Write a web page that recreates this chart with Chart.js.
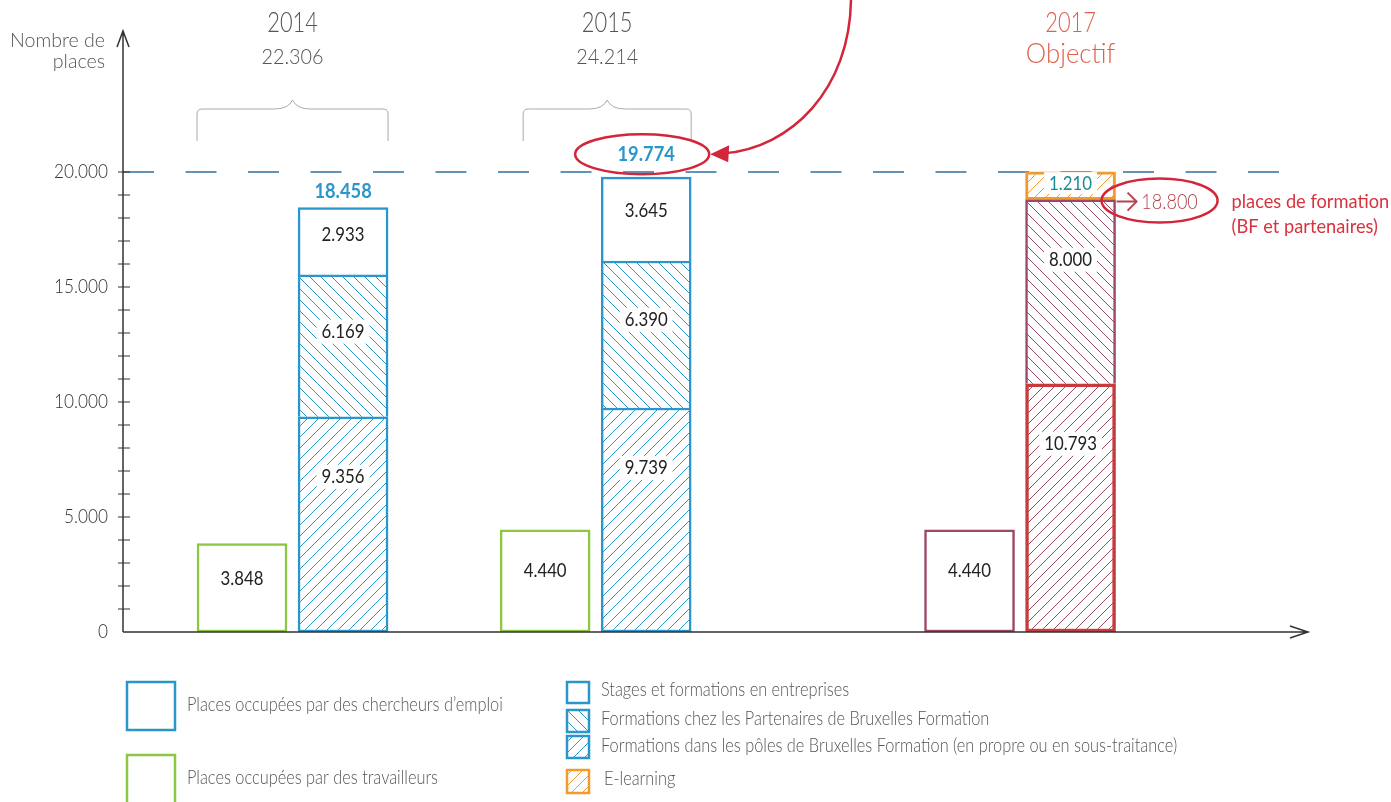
<!DOCTYPE html>
<html lang="fr">
<head>
<meta charset="utf-8">
<title>Places de formation</title>
<script src="https://cdn.jsdelivr.net/npm/chart.js@4.4.1/dist/chart.umd.min.js"></script>
<style>
  html, body { margin: 0; padding: 0; background: #fff; }
  canvas { display: block; }
</style>
</head>
<body>
<canvas id="chart" width="1391" height="802"></canvas>
<script>
// values
const years = ['2014', '2015', '2017'];
const yearTotals = [22306, 24214, null];
const travailleurs = [3848, 4440, 4440];
const polesBF = [9356, 9739, 10793];
const partenairesBF = [6169, 6390, 8000];
const stagesEntreprises = [2933, 3645, null];
const eLearning = [null, null, 1210];
const seuil = 20000;
const objectifFormation = 18800;
const yTicks = [0, 5000, 10000, 15000, 20000];

// layout + styles
const slot = [0, 3, 7.2];            // where each year group sits on the x scale
const braceInset = [0, 23];
const totalLift = [16, 23];
const FONT = "Lato, 'DejaVu Sans Condensed', sans-serif";
const BLUE = '#2b96cb', GREEN = '#8dc641', PLUM = '#9a4769', RED = '#c73a3d', ORANGE = '#f29a2e';
const TXT = '#555', ALERT = '#d3263a';

const fmt = v => String(v).replace(/\B(?=(\d{3})+(?!\d))/g, '.');
const ctx = document.getElementById('chart').getContext('2d');

function hatch(color, back) {
  const s = 11, c = document.createElement('canvas');
  c.width = c.height = s;
  const g = c.getContext('2d');
  g.fillStyle = '#fff'; g.fillRect(0, 0, s, s);
  g.strokeStyle = color; g.lineWidth = 1;
  g.beginPath();
  for (const k of [-s, 0, s]) {
    if (back) { g.moveTo(k, 0); g.lineTo(k + s, s); }
    else { g.moveTo(k, s); g.lineTo(k + s, 0); }
  }
  g.stroke();
  return ctx.createPattern(c, 'repeat');
}
const blueSlash = hatch(BLUE, false), blueBack = hatch(BLUE, true);
const plumSlash = hatch(PLUM, false), plumBack = hatch(PLUM, true);
const orangeSlash = hatch(ORANGE, false);

const pts = (vals, off) => vals.map((v, i) => ({x: slot[i] + off, y: v}));

const datasets = [
  {label: 'Places occupées par des travailleurs', data: pts(travailleurs, 0),
   backgroundColor: '#fff', borderColor: [GREEN, GREEN, PLUM], borderWidth: 2.5, borderSkipped: false},
  {label: 'Formations dans les pôles de Bruxelles Formation (en propre ou en sous-traitance)', data: pts(polesBF, 1),
   backgroundColor: [blueSlash, blueSlash, plumSlash], borderColor: [BLUE, BLUE, RED], borderWidth: [2.5, 2.5, 3.5], borderSkipped: false},
  {label: 'Formations chez les Partenaires de Bruxelles Formation', data: pts(partenairesBF, 1),
   backgroundColor: [blueBack, blueBack, plumBack], borderColor: [BLUE, BLUE, PLUM], borderWidth: 2.5},
  {label: 'Stages et formations en entreprises', data: pts(stagesEntreprises, 1),
   backgroundColor: '#fff', borderColor: BLUE, borderWidth: 2.5},
  {label: 'E-learning', data: pts(eLearning, 1),
   backgroundColor: orangeSlash, borderColor: ORANGE, borderWidth: 3, borderSkipped: false}
];

// text squeezed horizontally to get the narrow look of the original font
function text(c, s, x, y, font, color, align = 'center', sx = 0.9) {
  c.save();
  c.font = font; c.fillStyle = color; c.textAlign = align; c.textBaseline = 'middle';
  c.translate(x, y); c.scale(sx, 1); c.fillText(s, 0, 0);
  c.restore();
}
function ellipse(c, x, y, rx, ry) {
  c.strokeStyle = ALERT; c.lineWidth = 2.5;
  c.beginPath(); c.ellipse(x, y, rx, ry, 0, 0, Math.PI * 2); c.stroke();
}
function box(c, x, y, w, h, fill, stroke) {
  c.fillStyle = fill; c.fillRect(x, y, w, h);
  c.strokeStyle = stroke; c.lineWidth = 2.5; c.strokeRect(x + 1, y + 1, w - 2, h - 2);
}
function brace(c, l, r, top, bottom) {
  const m = (l + r) / 2, yb = top + 9;
  c.strokeStyle = '#aaa'; c.lineWidth = 1;
  c.beginPath();
  c.moveTo(l, bottom); c.lineTo(l, yb + 5); c.quadraticCurveTo(l, yb, l + 5, yb);
  c.lineTo(m - 18, yb); c.quadraticCurveTo(m - 4, yb, m, top);
  c.quadraticCurveTo(m + 4, yb, m + 18, yb);
  c.lineTo(r - 5, yb); c.quadraticCurveTo(r, yb, r, yb + 5); c.lineTo(r, bottom);
  c.stroke();
}

const deco = {
  id: 'deco',
  beforeDatasetsDraw(chart) {
    const {ctx: c, chartArea: a, scales: {y}} = chart;
    const yy = y.getPixelForValue(seuil);
    c.save();
    c.strokeStyle = '#2f72a3'; c.lineWidth = 1.5; c.setLineDash([31, 31.5]);
    c.beginPath(); c.moveTo(a.left, yy); c.lineTo(a.right - 26, yy); c.stroke();
    c.restore();
  },
  afterDatasetsDraw(chart) {
    const {ctx: c, chartArea: a, scales: {y}} = chart;
    c.save();

    // axes with arrows, minor ticks, tick labels
    c.strokeStyle = '#333'; c.lineWidth = 1.5;
    c.beginPath();
    c.moveTo(a.left, a.bottom); c.lineTo(a.left, a.top - 3);
    c.moveTo(a.left - 6, a.top + 13); c.lineTo(a.left, a.top - 3); c.lineTo(a.left + 6, a.top + 13);
    c.moveTo(a.left, a.bottom); c.lineTo(a.right, a.bottom);
    c.moveTo(a.right - 18, a.bottom - 6); c.lineTo(a.right, a.bottom); c.lineTo(a.right - 18, a.bottom + 6);
    c.stroke();
    c.lineWidth = 1;
    c.beginPath();
    for (let v = 1000; v <= seuil; v += 1000) {
      const py = y.getPixelForValue(v);
      c.moveTo(a.left - 5, py); c.lineTo(a.left + 7, py);
    }
    c.stroke();
    yTicks.forEach(v => text(c, fmt(v), a.left - 15, y.getPixelForValue(v), `300 20px ${FONT}`, '#333', 'right', 0.86));
    text(c, 'Nombre de', a.left - 18, 41, `300 20px ${FONT}`, '#555', 'right', 0.98);
    text(c, 'places', a.left - 18, 62, `300 20px ${FONT}`, '#555', 'right', 0.98);

    // values in the bars
    chart.data.datasets.forEach((ds, d) => {
      const meta = chart.getDatasetMeta(d);
      meta.data.forEach((bar, i) => {
        const v = ds.data[i].y;
        if (v == null) return;
        const p = bar.getProps(['x', 'y', 'base'], true);
        const h = p.base - p.y, ty = p.y + Math.min(h * 0.4, 60);
        c.font = `20px ${FONT}`;
        const w = c.measureText(fmt(v)).width * 0.84;
        if (ds.backgroundColor !== '#fff') {
          c.fillStyle = '#fff';
          c.fillRect(p.x - w / 2 - 5, ty - Math.min(12, h / 2 - 3), w + 10, Math.min(24, h - 6));
        }
        text(c, fmt(v), p.x, ty, `20px ${FONT}`, d === 4 ? '#1a8c94' : '#222', 'center', 0.84);
      });
    });

    // headers, braces, totals
    const wMeta = chart.getDatasetMeta(0), pMeta = chart.getDatasetMeta(1);
    const sMeta = chart.getDatasetMeta(3), eMeta = chart.getDatasetMeta(4);
    years.forEach((yr, i) => {
      const wb = wMeta.data[i], sb = pMeta.data[i];
      if (yearTotals[i] != null) {
        const l = wb.x - 45 + braceInset[i], r = sb.x + 45, m = (l + r) / 2;
        brace(c, l, r, 100, 141);
        text(c, yr, m, 23, `300 28px ${FONT}`, TXT, 'center', 0.78);
        text(c, fmt(yearTotals[i]), m, 57, `300 22px ${FONT}`, TXT, 'center', 0.9);
        const top = sMeta.data[i];
        const ty = top.y - totalLift[i];
        text(c, fmt(polesBF[i] + partenairesBF[i] + stagesEntreprises[i]), top.x, ty, `bold 21px ${FONT}`, BLUE, 'center', 0.87);
        if (i === 1) {
          const ex = top.x - 4, rx = 67;
          ellipse(c, ex, ty, rx, 20);
          // curved arrow coming from the top
          const tx = ex + rx + 1;
          c.strokeStyle = ALERT; c.lineWidth = 2.5;
          c.beginPath(); c.moveTo(851, -3); c.bezierCurveTo(851, 90, 790, ty - 6, tx + 14, ty - 1); c.stroke();
          c.fillStyle = ALERT;
          c.beginPath(); c.moveTo(tx, ty); c.lineTo(tx + 19, ty - 9); c.lineTo(tx + 18, ty + 8); c.closePath(); c.fill();
        }
      } else {
        text(c, yr, sb.x, 23, `300 28px ${FONT}`, '#e0604b', 'center', 0.78);
        text(c, 'Objectif', sb.x, 54, `300 28px ${FONT}`, '#e0604b', 'center', 0.92);
        const oy = y.getPixelForValue(objectifFormation);
        const bx = eMeta.data[i].x + 45;
        c.strokeStyle = '#b5444c'; c.lineWidth = 2;
        c.beginPath();
        c.moveTo(bx + 1, oy + 2); c.lineTo(bx + 21, oy + 2);
        c.moveTo(bx + 12, oy - 7); c.lineTo(bx + 21, oy + 2); c.lineTo(bx + 12, oy + 11);
        c.stroke();
        text(c, fmt(objectifFormation), bx + 54, oy + 2, `300 22px ${FONT}`, '#b5444c', 'center', 0.82);
        ellipse(c, bx + 44, oy + 1, 58, 22);
        text(c, 'places de formation', bx + 116, oy + 2, `19px ${FONT}`, '#d8323f', 'left', 0.96);
        text(c, '(BF et partenaires)', bx + 116, oy + 27, `19px ${FONT}`, '#d8323f', 'left', 0.96);
      }
    });

    // legend
    const lf = `300 19px ${FONT}`, lsx = 0.86;
    box(c, 126, 681, 50, 50, '#fff', BLUE);
    text(c, 'Places occupées par des chercheurs d’emploi', 187, 705, lf, TXT, 'left', lsx);
    box(c, 126, 754, 50, 52, '#fff', GREEN);
    text(c, 'Places occupées par des travailleurs', 187, 778, lf, TXT, 'left', lsx);
    box(c, 566, 681, 24, 23, '#fff', BLUE);
    text(c, 'Stages et formations en entreprises', 601, 690, lf, TXT, 'left', lsx);
    box(c, 566, 709, 24, 24, blueBack, BLUE);
    text(c, 'Formations chez les Partenaires de Bruxelles Formation', 601, 719, lf, TXT, 'left', lsx);
    box(c, 566, 735, 24, 24, blueSlash, BLUE);
    text(c, 'Formations dans les pôles de Bruxelles Formation (en propre ou en sous-traitance)', 601, 746, lf, TXT, 'left', lsx);
    box(c, 566, 769, 24, 25, orangeSlash, ORANGE);
    text(c, 'E-learning', 604, 779, lf, TXT, 'left', lsx);
    c.restore();
  }
};

new Chart(ctx, {
  type: 'bar',
  data: {datasets},
  plugins: [deco],
  options: {
    responsive: false,
    animation: false,
    events: [],
    barThickness: 90,
    layout: {padding: {top: 34, bottom: 170, right: 83, left: 0}},
    plugins: {legend: {display: false}, tooltip: {enabled: false}},
    scales: {
      x: {type: 'linear', min: -1.178, max: 10.55, offset: false, grid: {offset: false}, stacked: true, display: false},
      y: {
        min: 0, max: 26000, stacked: true,
        border: {display: false},
        grid: {display: false, drawTicks: false},
        afterFit: s => { s.width = 123; },
        ticks: {display: false}
      }
    }
  }
});
</script>
</body>
</html>
